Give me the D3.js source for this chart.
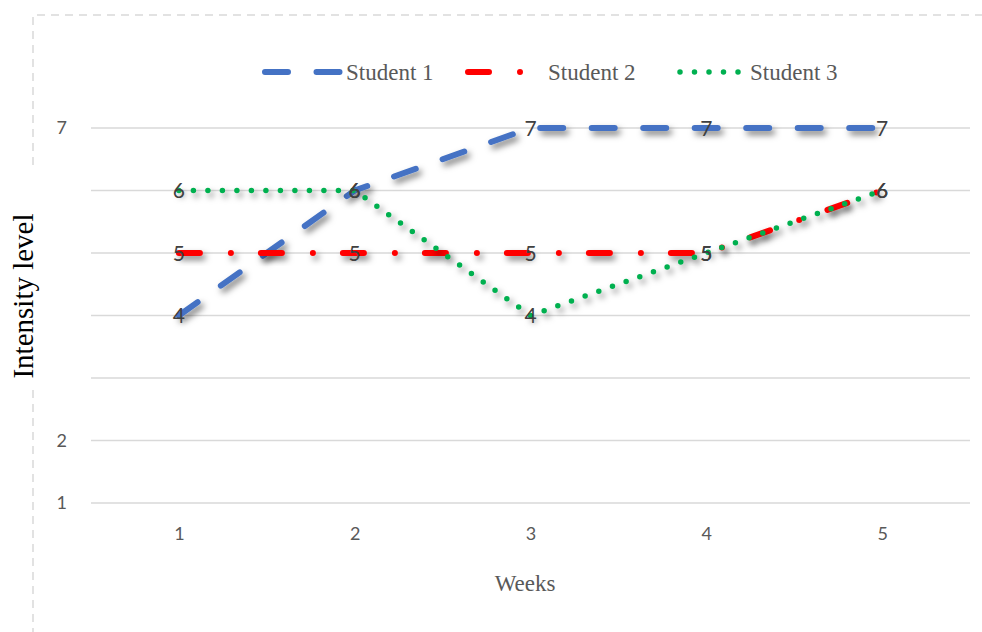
<!DOCTYPE html>
<html>
<head>
<meta charset="utf-8">
<script src="https://cdn.jsdelivr.net/npm/d3@7"></script>
<style>
  body { margin: 0; background: #fff; }
  svg { display: block; }
</style>
</head>
<body>
<svg id="chart" width="982" height="632"></svg>
<script>
const WIDTH = 982;
const HEIGHT = 632;
const MARGIN = { left: 91, right: 12, top: 128, bottom: 129 };

const weeks = ['1', '2', '3', '4', '5'];
const student1 = [4, 6, 7, 7, 7];
const student2 = [5, 5, 5, 5, 6];
const student3 = [6, 6, 4, 5, 6];
const seriesNames = ['Student 1', 'Student 2', 'Student 3'];
const gridValues = [1, 2, 3, 4, 5, 6, 7];
const yTickLabels = [1, 2, 7];

const styles = [
  { color: '#4472c4', width: 6, dash: '23 28.5' },
  { color: '#ff0000', width: 6, dash: '21 31 0 30' },
  { color: '#00b050', width: 5.5, dash: '0 14.5' }
];

let svg = d3.select('#chart');

// shadow filter for the lines
let defs = svg.append('defs');
defs.append('filter')
  .attr('id', 'shadow')
  .attr('x', '-10%').attr('y', '-10%')
  .attr('width', '120%').attr('height', '130%')
  .append('feDropShadow')
  .attr('dx', 3).attr('dy', 4)
  .attr('stdDeviation', 3)
  .attr('flood-color', '#000')
  .attr('flood-opacity', 0.5);

// dashed outer frame
svg.append('path')
  .attr('d', 'M33,165 L33,15 L982,15')
  .attr('fill', 'none')
  .attr('stroke', '#d9d9d9')
  .attr('stroke-width', 1.5)
  .attr('stroke-dasharray', '8 6');
svg.append('line')
  .attr('x1', 33).attr('x2', 33)
  .attr('y1', 390).attr('y2', HEIGHT)
  .attr('stroke', '#d9d9d9')
  .attr('stroke-width', 1.5)
  .attr('stroke-dasharray', '8 6');

let xScale = d3.scalePoint()
  .domain(weeks)
  .range([MARGIN.left, WIDTH - MARGIN.right])
  .padding(0.5);

let yScale = d3.scaleLinear()
  .domain([1, 7])
  .range([HEIGHT - MARGIN.bottom, MARGIN.top]);

// gridlines
svg.append('g')
  .selectAll('line')
  .data(gridValues)
  .join('line')
  .attr('x1', MARGIN.left)
  .attr('x2', WIDTH - MARGIN.right)
  .attr('y1', d => yScale(d))
  .attr('y2', d => yScale(d))
  .attr('stroke', '#d9d9d9')
  .attr('stroke-width', 1.5);

// y axis labels (only some are shown)
let yAxis = svg.append('g')
  .attr('transform', `translate(${MARGIN.left}, 0)`)
  .call(d3.axisLeft(yScale).tickValues(yTickLabels).tickFormat(d3.format('d')).tickSize(0).tickPadding(24));
yAxis.select('.domain').remove();
yAxis.selectAll('text')
  .attr('fill', '#595959')
  .style('font-family', 'Lato, "Open Sans", sans-serif')
  .style('font-size', '18px');

// x axis labels
let xAxis = svg.append('g')
  .attr('transform', `translate(0, ${yScale(1)})`)
  .call(d3.axisBottom(xScale).tickSize(0).tickPadding(24));
xAxis.select('.domain').remove();
xAxis.selectAll('text')
  .attr('fill', '#595959')
  .style('font-family', 'Lato, "Open Sans", sans-serif')
  .style('font-size', '18px');

// axis titles
svg.append('text')
  .attr('transform', 'translate(33, 296) rotate(-90)')
  .attr('text-anchor', 'middle')
  .attr('fill', '#000')
  .style('font-family', '"Liberation Serif", "Times New Roman", serif')
  .style('font-size', '29px')
  .text('Intensity level');

svg.append('text')
  .attr('x', 525)
  .attr('y', 591)
  .attr('text-anchor', 'middle')
  .attr('fill', '#595959')
  .style('font-family', '"Liberation Serif", "Times New Roman", serif')
  .style('font-size', '23px')
  .text('Weeks');

// lines
const allSeries = [student1, student2, student3];
const lineGenerator = d3.line()
  .x((d, i) => xScale(weeks[i]))
  .y(d => yScale(d));

svg.append('g')
  .selectAll('path')
  .data(allSeries)
  .join('path')
  .attr('d', d => lineGenerator(d))
  .attr('fill', 'none')
  .attr('stroke', (d, i) => styles[i].color)
  .attr('stroke-width', (d, i) => styles[i].width)
  .attr('stroke-dasharray', (d, i) => styles[i].dash)
  .attr('stroke-linecap', 'round')
  .attr('filter', 'url(#shadow)');

// data labels
allSeries.forEach(function (values) {
  svg.append('g')
    .selectAll('text')
    .data(values)
    .join('text')
    .attr('x', (d, i) => xScale(weeks[i]))
    .attr('y', d => yScale(d))
    .attr('dy', '0.36em')
    .attr('text-anchor', 'middle')
    .attr('fill', '#404040')
    .style('font-family', 'Lato, "Open Sans", sans-serif')
    .style('font-size', '21px')
    .text(d => d);
});

// legend
const legendX = [265, 468, 680];
const legendLen = [75, 74, 64];
const legendY = 72;
let legend = svg.append('g');
seriesNames.forEach(function (name, i) {
  legend.append('line')
    .attr('x1', legendX[i]).attr('x2', legendX[i] + legendLen[i])
    .attr('y1', legendY).attr('y2', legendY)
    .attr('stroke', styles[i].color)
    .attr('stroke-width', styles[i].width)
    .attr('stroke-dasharray', styles[i].dash)
    .attr('stroke-linecap', 'round');
  legend.append('text')
    .attr('x', legendX[i] + legendLen[i] + 6)
    .attr('y', legendY)
    .attr('dy', '0.35em')
    .attr('fill', '#595959')
    .style('font-family', '"Liberation Serif", "Times New Roman", serif')
    .style('font-size', '23px')
    .text(name);
});
</script>
</body>
</html>
